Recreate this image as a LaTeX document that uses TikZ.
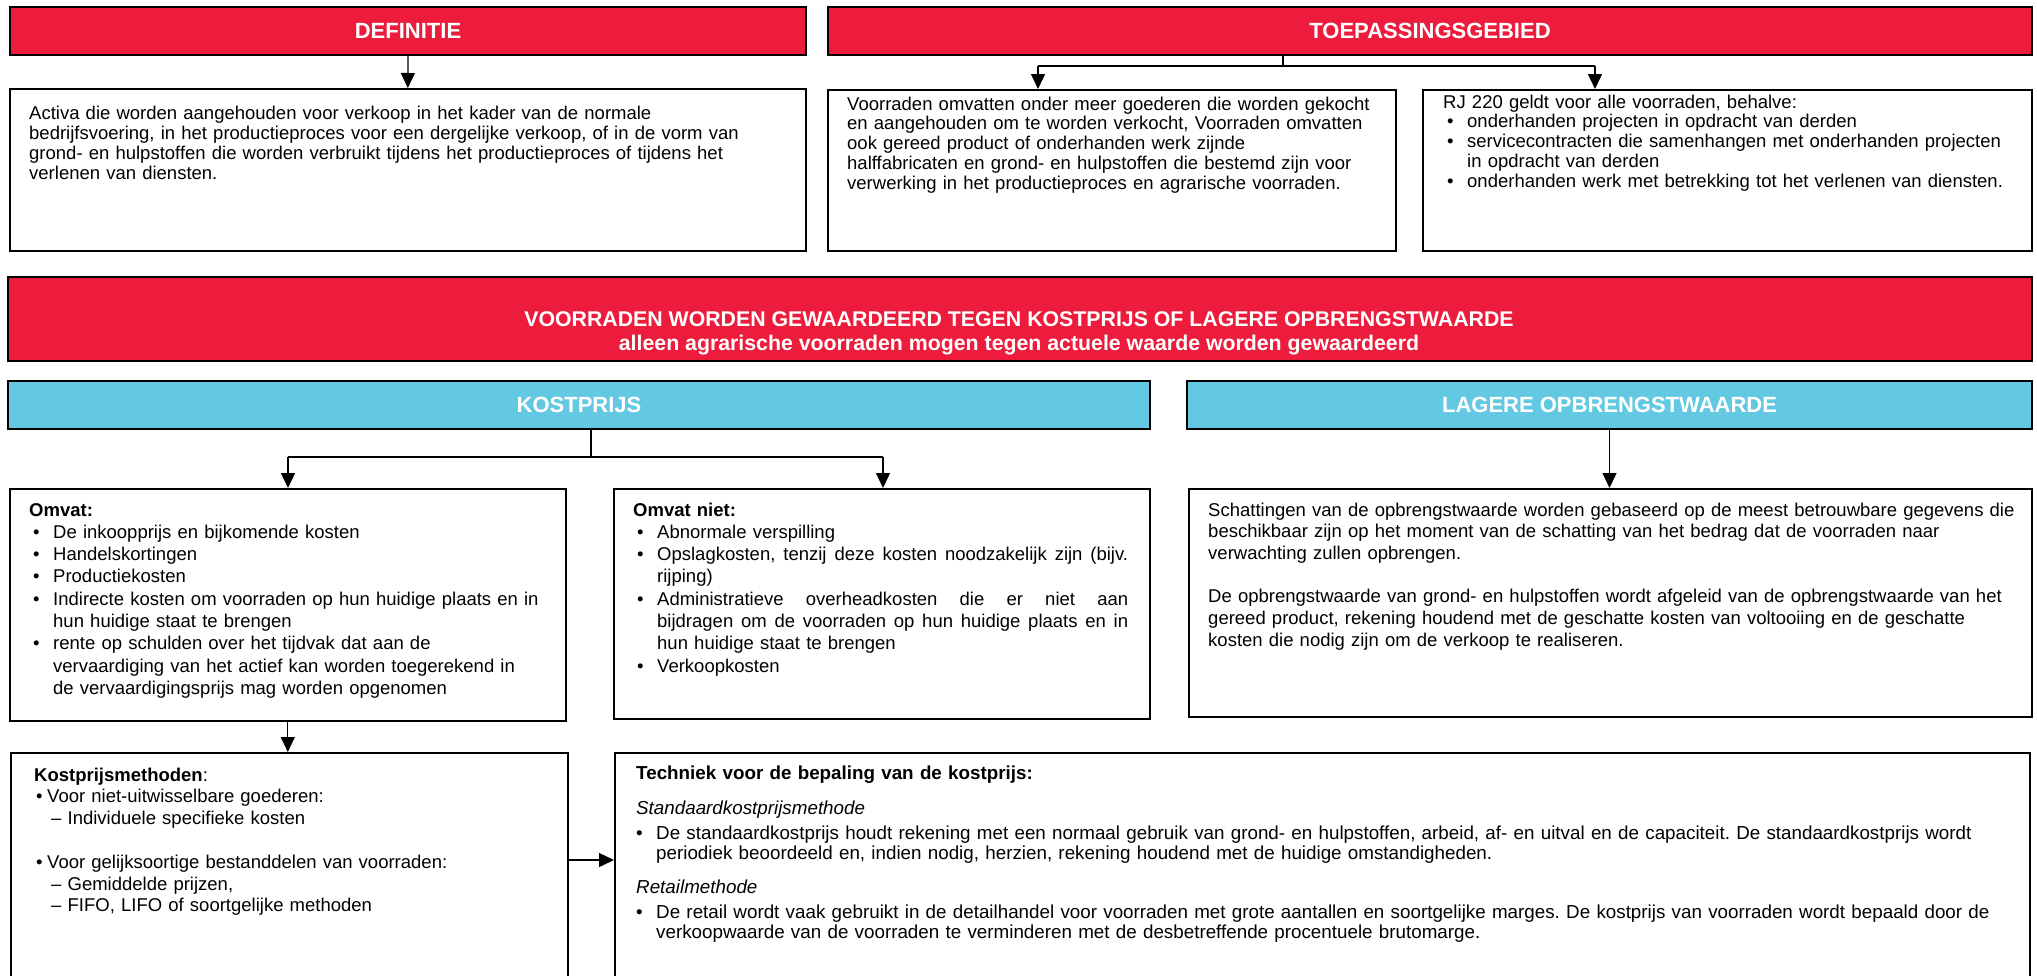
\documentclass[tikz,border=0pt]{standalone}
\usepackage{fontspec}
\setmainfont{Liberation Sans}
\usetikzlibrary{arrows.meta}

\definecolor{kred}{RGB}{237,28,60}
\definecolor{kblue}{RGB}{99,201,227}

\newcommand{\itm}{\hspace*{4pt}\makebox[20pt][l]{\textbullet}}
\newcommand{\cnt}{\hspace*{24pt}}
\newcommand{\jline}[1]{\hbox to 471pt{\spaceskip=.278em plus 1fil\relax #1}}

\tikzset{
  hdr/.style={draw=black, line width=2pt, text=white, anchor=north west, inner sep=0pt,
    minimum height=48pt, font=\fontsize{22}{24}\selectfont\bfseries},
  redhdr/.style={hdr, fill=kred},
  bluehdr/.style={hdr, fill=kblue},
  box/.style={draw=black, line width=1.6pt, fill=white, anchor=north west, inner sep=0pt},
  txt/.style={anchor=base west, inner sep=0pt, align=left, text width=#1,
    font=\fontsize{18.5}{20}\selectfont},
  link/.style={draw=black, line width=1.3pt},
  flow/.style={link, -{Triangle[width=14pt,length=15pt]}},
}

\begin{document}
\frenchspacing
\begin{tikzpicture}[x=1pt, y=-1pt]
    \path[fill=white, use as bounding box] (0,0) rectangle (2037,975);
    \clip (0,0) rectangle (2037,975);

    % top row: definitie and toepassingsgebied
    \node[redhdr, minimum width=796pt] (defhdr) at (9,6) {DEFINITIE};
    \node[redhdr, minimum width=1204pt] (toephdr) at (827,6) {TOEPASSINGSGEBIED};

    \node[box, minimum width=796pt, minimum height=162pt] (defbox) at (9,88) {};
    \node[box, minimum width=568pt, minimum height=161pt] (toepbox) at (827,89) {};
    \node[box, minimum width=609pt, minimum height=161pt] (uitzbox) at (1422,89) {};

    \node[txt=770pt] (deftxt) at (29,119) {Activa die worden aangehouden voor verkoop in het kader van de normale\\
      bedrijfsvoering, in het productieproces voor een dergelijke verkoop, of in de vorm van\\
      grond- en hulpstoffen die worden verbruikt tijdens het productieproces of tijdens het\\
      verlenen van diensten.};
    \node[txt=545pt, font=\fontsize{18.5}{19.8}\selectfont] (toeptxt) at (847,110) {Voorraden omvatten onder meer goederen die worden gekocht\\
      en aangehouden om te worden verkocht, Voorraden omvatten\\
      ook gereed product of onderhanden werk zijnde\\
      halffabricaten en grond- en hulpstoffen die bestemd zijn voor\\
      verwerking in het productieproces en agrarische voorraden.};
    \node[txt=585pt, font=\fontsize{18.5}{19.8}\selectfont] (uitztxt) at (1443,108) {RJ 220 geldt voor alle voorraden, behalve:\\
      \itm onderhanden projecten in opdracht van derden\\
      \itm servicecontracten die samenhangen met onderhanden projecten\\
      \cnt in opdracht van derden\\
      \itm onderhanden werk met betrekking tot het verlenen van diensten.};

    \draw[flow] (defhdr.south) -- (defbox.north);
    \coordinate (toepsplit) at (1283,66);
    \coordinate (toepL) at (1038,66);
    \coordinate (toepR) at (1595,66);
    \draw[link] (toephdr.south -| toepsplit) -- (toepsplit);
    \draw[link] (toepL) -- (toepR);
    \draw[flow] (toepL) -- (toepL |- toepbox.north);
    \draw[flow] (toepR) -- (toepR |- uitzbox.north);

    % waardering
    \node[redhdr, minimum width=2024pt, minimum height=84pt] (waarde) at (7,276) {};
    \node[align=center, text=white, inner sep=0pt, font=\fontsize{21.3}{24}\selectfont\bfseries]
      (waardetxt) at (1019,333)
      {VOORRADEN WORDEN GEWAARDEERD TEGEN KOSTPRIJS OF LAGERE OPBRENGSTWAARDE\\
       alleen agrarische voorraden mogen tegen actuele waarde worden gewaardeerd};

    \node[bluehdr, minimum width=1142pt] (kphdr) at (7,380) {KOSTPRIJS};
    \node[bluehdr, minimum width=845pt] (lowhdr) at (1186,380) {LAGERE OPBRENGSTWAARDE};

    \node[box, minimum width=556pt, minimum height=232pt] (omvat) at (9,488) {};
    \node[box, minimum width=536pt, minimum height=230pt] (omvatniet) at (613,488) {};
    \node[box, minimum width=843pt, minimum height=228pt] (lowbox) at (1188,488) {};

    \node[txt=530pt, font=\fontsize{18.5}{22.3}\selectfont] (omvattxt) at (29,516) {\textbf{Omvat:}\\
      \itm De inkoopprijs en bijkomende kosten\\
      \itm Handelskortingen\\
      \itm Productiekosten\\
      \itm Indirecte kosten om voorraden op hun huidige plaats en in\\
      \cnt hun huidige staat te brengen\\
      \itm rente op schulden over het tijdvak dat aan de\\
      \cnt vervaardiging van het actief kan worden toegerekend in\\
      \cnt de vervaardigingsprijs mag worden opgenomen};
    \node[txt=510pt, font=\fontsize{18.5}{22.3}\selectfont] (niettxt) at (633,516) {\textbf{Omvat niet:}\\
      \itm Abnormale verspilling\\
      \itm \jline{Opslagkosten, tenzij deze kosten noodzakelijk zijn (bijv.}\\
      \cnt rijping)\\
      \itm \jline{Administratieve overheadkosten die er niet aan}\\
      \cnt \jline{bijdragen om de voorraden op hun huidige plaats en in}\\
      \cnt hun huidige staat te brengen\\
      \itm Verkoopkosten};
    \node[txt=815pt, font=\fontsize{18.5}{21.7}\selectfont] (lowtxt) at (1208,516) {Schattingen van de opbrengstwaarde worden gebaseerd op de meest betrouwbare gegevens die\\
      beschikbaar zijn op het moment van de schatting van het bedrag dat de voorraden naar\\
      verwachting zullen opbrengen.\\[21.7pt]
      De opbrengstwaarde van grond- en hulpstoffen wordt afgeleid van de opbrengstwaarde van het\\
      gereed product, rekening houdend met de geschatte kosten van voltooiing en de geschatte\\
      kosten die nodig zijn om de verkoop te realiseren.};

    \coordinate (kpsplit) at (591,457);
    \coordinate (kpL) at (288,457);
    \coordinate (kpR) at (883,457);
    \draw[link] (kphdr.south -| kpsplit) -- (kpsplit);
    \draw[link] (kpL) -- (kpR);
    \draw[flow] (kpL) -- (kpL |- omvat.north);
    \draw[flow] (kpR) -- (kpR |- omvatniet.north);
    \draw[flow] (lowhdr.south) -- (lowhdr.south |- lowbox.north);

    % bottom row (boxes run on past the lower edge)
    \node[box, minimum width=557pt, minimum height=240pt] (methode) at (10,752) {};
    \node[box, minimum width=1415pt, minimum height=240pt] (techniek) at (614,752) {};

    \node[txt=530pt, font=\fontsize{18.5}{21.8}\selectfont] (methtxt) at (34,781) {\textbf{Kostprijsmethoden}:\\
      \hspace*{2pt}\makebox[11pt][l]{\textbullet}Voor niet-uitwisselbare goederen:\\
      \hspace*{17pt}--~Individuele specifieke kosten\\[21.8pt]
      \hspace*{2pt}\makebox[11pt][l]{\textbullet}Voor gelijksoortige bestanddelen van voorraden:\\
      \hspace*{17pt}--~Gemiddelde prijzen,\\
      \hspace*{17pt}--~FIFO, LIFO of soortgelijke methoden};
    \node[txt=1385pt, font=\fontsize{18.8}{20}\selectfont] (techtxt) at (636,779) {\textbf{Techniek voor de bepaling van de kostprijs:}\\[15pt]
      \textit{Standaardkostprijsmethode}\\[5pt]
      \makebox[20pt][l]{\textbullet}De standaardkostprijs houdt rekening met een normaal gebruik van grond- en hulpstoffen, arbeid, af- en uitval en de capaciteit. De standaardkostprijs wordt\\
      \hspace*{20pt}periodiek beoordeeld en, indien nodig, herzien, rekening houdend met de huidige omstandigheden.\\[14pt]
      \textit{Retailmethode}\\[5pt]
      \makebox[20pt][l]{\textbullet}De retail wordt vaak gebruikt in de detailhandel voor voorraden met grote aantallen en soortgelijke marges. De kostprijs van voorraden wordt bepaald door de\\
      \hspace*{20pt}verkoopwaarde van de voorraden te verminderen met de desbetreffende procentuele brutomarge.};

    \draw[flow] (omvat.south) -- (omvat.south |- methode.north);
    \coordinate (techlevel) at (0,860);
    \draw[flow] (methode.east |- techlevel) -- (techniek.west |- techlevel);
\end{tikzpicture}
\end{document}
